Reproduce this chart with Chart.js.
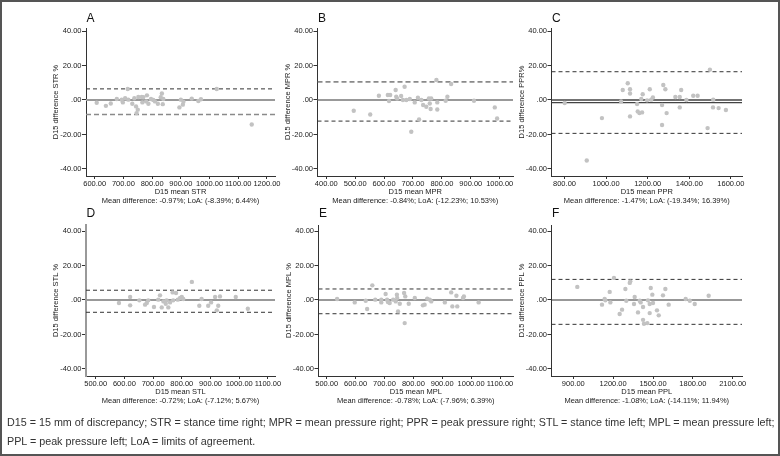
<!DOCTYPE html>
<html>
<head>
<meta charset="utf-8">
<script src="https://cdn.jsdelivr.net/npm/chart.js@4"></script>
<style>
  body { margin: 0; background: #fff; }
  #wrap { position: relative; width: 780px; height: 456px; overflow: hidden; font-family: 'Liberation Sans', Arial, sans-serif; color: #333; }
  #wrap canvas { position: absolute; left: 0; top: 0; }
  #frame { position: absolute; left: 0; top: 0; width: 780px; height: 456px; box-sizing: border-box; border: 2px solid #555; }
  .letter { position: absolute; font-size: 12px; line-height: 14px; color: #111; }
  #caption { position: absolute; left: 7px; top: 413px; font-size: 10.75px; line-height: 19px; color: #333; white-space: nowrap; }
</style>
</head>
<body>
<div id="wrap">
  <div id="frame"></div>
  <div id="caption">D15 = 15 mm of discrepancy; STR = stance time right; MPR = mean pressure right; PPR = peak pressure right; STL = stance time left; MPL = mean pressure left;<br>PPL = peak pressure left; LoA = limits of agreement.</div>
</div>
<script>
// panel letters and measures
const letters = ['A', 'B', 'C', 'D', 'E', 'F'];
const measures = ['STR', 'MPR', 'PPR', 'STL', 'MPL', 'PPL'];
const yTitles = ['D15 difference STR %', 'D15 difference MPR %', 'D15 difference PPR%',
                 'D15 difference STL %', 'D15 difference MPL %', 'D15 difference PPL %'];

// summary values (%)
const meanDiff = [-0.97, -0.84, -1.47, -0.72, -0.78, -1.08];
const loaLow   = [-8.39, -12.23, -19.34, -7.12, -7.96, -14.11];
const loaHigh  = [6.44, 10.53, 16.39, 5.67, 6.39, 11.94];

// tick labels
const yTicks = [-40, -20, 0, 20, 40];
const xTicksA = [600, 700, 800, 900, 1000, 1100, 1200];
const xTicksB = [400, 500, 600, 700, 800, 900, 1000];
const xTicksC = [800, 1000, 1200, 1400, 1600];
const xTicksD = [500, 600, 700, 800, 900, 1000, 1100];
const xTicksE = [500, 600, 700, 800, 900, 1000, 1100];
const xTicksF = [900, 1200, 1500, 1800, 2100];

// A: stance time right
const strMean = [607, 639, 656, 677, 694, 698, 706, 715, 717, 731, 738, 744, 746, 750, 752, 764, 766, 769, 779, 782,
                 787, 796, 804, 810, 820, 830, 834, 837, 839, 895, 900, 907, 909, 938, 961, 970, 1025, 1147];
const strDiff = [-1.6, -3.4, -2.0, 0.6, 0.2, -1.4, 1.0, 6.4, 0.2, -2.2, 1.0, -3.7, -7.6, -5.6, 1.7, 1.7, -1.4, 1.6, -0.8, 2.7,
                 -2.2, 0.6, 0, -0.8, -2.2, 1.6, 3.8, -2.4, 0.6, -4.3, 0.2, -2.7, -1.0, 0.8, -0.6, 0.4, 6.4, -14.2];

// B: mean pressure right
const mprMean = [495, 552, 582, 613, 621, 617, 640, 642, 645, 659, 671, 665, 677, 689, 706, 717, 721, 694, 729, 735,
                 746, 755, 758, 763, 761, 781, 784, 784, 813, 819, 832, 911, 983, 991];
const mprDiff = [-6.2, -8.4, 2.5, 2.9, 2.9, -0.6, 5.8, 1.9, 0.9, 2.3, 7.7, 0, 0, 0.6, -1.4, 1.3, -11.3, -18.4, 0, -2.9,
                 -3.9, 0.9, -2.0, 0.9, -5.2, 11.6, -1.4, -5.5, -0.4, 1.9, 9.3, -0.4, -4.3, -10.7];

// C: peak pressure right
const pprMean = [801, 907, 980, 1072, 1080, 1104, 1115, 1115, 1115, 1149, 1152, 1160, 1173, 1169, 1176, 1197, 1210, 1217, 1225,
                 1269, 1269, 1275, 1285, 1291, 1333, 1354, 1354, 1361, 1386, 1419, 1440, 1488, 1499, 1515, 1514, 1541, 1576];
const pprDiff = [-1.7, -35.1, -10.5, -0.8, 5.8, 9.7, 6.2, 3.8, -9.5, -2.3, -6.6, -7.6, -7.2, 0.6, 3.3, -0.2, 6.2, 0.2, 1.5,
                 -2.9, -14.5, 8.7, 6.2, -7.6, 1.7, 1.7, -4.3, 5.8, 0, 2.5, 2.5, -16.3, 17.6, 0.2, -4.3, -4.7, -5.8];

// D: stance time left
const stlMean = [581, 620, 620, 652, 672, 678, 683, 703, 718, 724, 730, 736, 744, 747, 753, 759, 768, 780, 770, 786,
                 794, 800, 805, 835, 861, 869, 892, 902, 916, 922, 927, 933, 988, 1030];
const stlDiff = [-1.7, 1.7, -3.1, -0.2, -2.7, -1.7, -0.2, -4.1, 0.2, 2.7, -4.3, -0.8, -2.2, -0.2, -4.3, -1.4, 4.4, 4.1, -0.2, 0.2,
                 1.2, 1.7, 0.6, 10.5, -3.3, 0.6, -3.3, -1.4, 1.7, -6.0, -3.3, 2.1, 1.7, -5.1];

// E: mean pressure left
const mplMean = [536, 597, 635, 640, 658, 668, 689, 689, 704, 709, 712, 718, 730, 739, 743, 744, 747, 753, 768, 772,
                 770, 784, 805, 833, 839, 848, 857, 862, 909, 931, 935, 949, 952, 972, 975, 1026];
const mplDiff = [0.6, -1.4, -0.4, -5.2, 8.5, 0.2, 0.2, -1.4, 3.5, 0.2, -1.2, -1.7, 0.2, -0.8, 3.1, 1.2, -6.6, -2.2, 4.1, 2.1,
                 -13.4, -2.2, 1.2, -3.1, -2.7, 0.8, 0.2, -0.8, -1.4, 4.4, -3.7, 2.5, -3.7, 1.2, 2.1, -1.4];

// F: peak pressure left
const pplMean = [930, 1116, 1136, 1141, 1174, 1179, 1206, 1249, 1267, 1292, 1299, 1325, 1329, 1357, 1362, 1387, 1400, 1407, 1425,
                 1425, 1432, 1457, 1462, 1475, 1475, 1483, 1495, 1500, 1530, 1543, 1575, 1593, 1618, 1746, 1777, 1814, 1919];
const pplDiff = [7.6, -2.7, 0.6, -0.2, 4.7, -1.4, 12.8, -8.1, -5.6, 6.4, -0.4, 9.9, 10.8, -2.3, 1.7, -7.2, -0.4, -1.4, -4.1,
                 -11.5, -13.8, -13.4, -0.2, -2.3, -7.6, 7.0, 3.1, -1.7, -6.0, -8.9, 2.7, 6.4, -2.7, 0.6, -0.4, -2.3, 2.5];

const allMean = [strMean, mprMean, pprMean, stlMean, mplMean, pplMean];
const allDiff = [strDiff, mprDiff, pprDiff, stlDiff, mplDiff, pplDiff];
const allXTicks = [xTicksA, xTicksB, xTicksC, xTicksD, xTicksE, xTicksF];

// plot areas on the page + axis ranges
const boxes = [
  { l: 86,    t: 28,  r: 275, b: 176, xMin: 569.7, xMax: 1228,   yMin: -44.06, yMax: 41.74 },
  { l: 317.5, t: 28,  r: 513, b: 176, xMin: 369.6, xMax: 1046,   yMin: -44.06, yMax: 41.74 },
  { l: 551.5, t: 28,  r: 742, b: 176, xMin: 737.5, xMax: 1653.4, yMin: -44.06, yMax: 41.74 },
  { l: 86,    t: 225, r: 275, b: 376, xMin: 466.2, xMax: 1124.7, yMin: -44.06, yMax: 43.48 },
  { l: 318.5, t: 225, r: 513, b: 376, xMin: 471.6, xMax: 1145,   yMin: -44.06, yMax: 43.48 },
  { l: 551.5, t: 225, r: 742, b: 376, xMin: 735.8, xMax: 2170,   yMin: -44.06, yMax: 43.48 }
];

const DARK = '#333', GREY = '#999';
// line looks per panel: zero line, upper LoA, lower LoA, show mean line, y axis line
const looks = [
  { zero: [GREY, 2.2], up: [DARK, 1, [4, 3]], low: ['#8a8a8a', 1.6, [5, 3]], mean: false, yAxis: [DARK, 1] },
  { zero: [GREY, 2.2], up: ['#8a8a8a', 1.6, [5, 3]], low: [DARK, 1, [4, 3]], mean: false, yAxis: [DARK, 1] },
  { zero: ['#444', 1.3], up: [DARK, 1, [4, 3]], low: [DARK, 1, [4, 3]], mean: true, yAxis: [DARK, 1] },
  { zero: [GREY, 2.2], up: [DARK, 1, [4, 3]], low: [DARK, 1, [4, 3]], mean: false, yAxis: ['#999', 2] },
  { zero: [DARK, 1.2], up: [DARK, 1, [4, 3]], low: [DARK, 1, [4, 3]], mean: false, yAxis: [DARK, 1] },
  { zero: [DARK, 1.2], up: [DARK, 1, [4, 3]], low: [DARK, 1, [4, 3]], mean: false, yAxis: [DARK, 1] }
];

const FONT = { family: "'Liberation Sans', Arial, sans-serif", size: 7.5, lineHeight: 1.2 };
const fmt = v => (v === 0 ? '.00' : v.toFixed(2));
const pct = v => v.toFixed(2) + '%';

const wrap = document.getElementById('wrap');

letters.forEach((letter, i) => {
  const bx = boxes[i];
  const lk = looks[i];

  const lbl = document.createElement('div');
  lbl.className = 'letter';
  lbl.textContent = letter;
  lbl.style.left = (bx.l + 0.5) + 'px';
  lbl.style.top = (bx.t - 17.5 - (i > 2 ? 1.5 : 0)) + 'px';
  wrap.appendChild(lbl);

  const canvas = document.createElement('canvas');
  canvas.width = 780;
  canvas.height = 456;
  wrap.insertBefore(canvas, document.getElementById('frame'));

  const hline = (y, look) => ({
    type: 'line',
    data: [{ x: bx.xMin, y: y }, { x: bx.xMax, y: y }],
    borderColor: look[0],
    borderWidth: look[1],
    borderDash: look[2] || [],
    pointRadius: 0,
    fill: false,
    order: 2
  });

  const datasets = [
    {
      type: 'scatter',
      data: allMean[i].map((x, k) => ({ x: x, y: allDiff[i][k] })),
      backgroundColor: '#c2c2c2',
      borderWidth: 0,
      pointRadius: 2.2,
      order: 1
    },
    hline(0, lk.zero),
    hline(loaHigh[i], lk.up),
    hline(loaLow[i], lk.low)
  ];
  if (lk.mean) datasets.push(hline(meanDiff[i], lk.zero));

  new Chart(canvas, {
    type: 'scatter',
    data: { datasets: datasets },
    options: {
      responsive: false,
      animation: false,
      events: [],
      layout: {
        autoPadding: false,
        padding: { left: bx.l - 40, top: bx.t, right: 780 - bx.r, bottom: 456 - bx.b - 30 }
      },
      plugins: { legend: { display: false }, tooltip: { enabled: false } },
      scales: {
        x: {
          type: 'linear',
          min: bx.xMin,
          max: bx.xMax,
          afterBuildTicks: s => { s.ticks = allXTicks[i].map(v => ({ value: v })); },
          afterFit: s => { s.height = 30; s.paddingLeft = 0; s.paddingRight = 0; },
          grid: { drawOnChartArea: false, drawTicks: true, tickLength: 3, tickColor: DARK, tickWidth: 1 },
          border: { display: true, color: DARK, width: 1 },
          ticks: { autoSkip: false, maxRotation: 0, minRotation: 0, padding: 0, color: '#1a1a1a', font: FONT, callback: v => fmt(v) },
          title: {
            display: true,
            text: ['D15 mean ' + measures[i],
                   'Mean difference: ' + pct(meanDiff[i]) + '; LoA: (' + pct(loaLow[i]) + '; ' + pct(loaHigh[i]) + ')'],
            color: '#1a1a1a',
            font: FONT,
            padding: { top: 0, bottom: 0.5 }
          }
        },
        y: {
          type: 'linear',
          min: bx.yMin,
          max: bx.yMax,
          afterBuildTicks: s => { s.ticks = yTicks.map(v => ({ value: v })); },
          afterFit: s => { s.width = 40; s.paddingTop = 0; s.paddingBottom = 0; },
          grid: { drawOnChartArea: false, drawTicks: true, tickLength: 4, tickColor: DARK, tickWidth: 1 },
          border: { display: true, color: lk.yAxis[0], width: lk.yAxis[1] },
          ticks: { autoSkip: false, padding: 0.5, color: '#1a1a1a', font: FONT, callback: v => fmt(v) },
          title: {
            display: true,
            text: yTitles[i],
            color: '#1a1a1a',
            font: FONT,
            padding: { top: 5.5, bottom: 0 }
          }
        }
      }
    }
  });
});
</script>
</body>
</html>
